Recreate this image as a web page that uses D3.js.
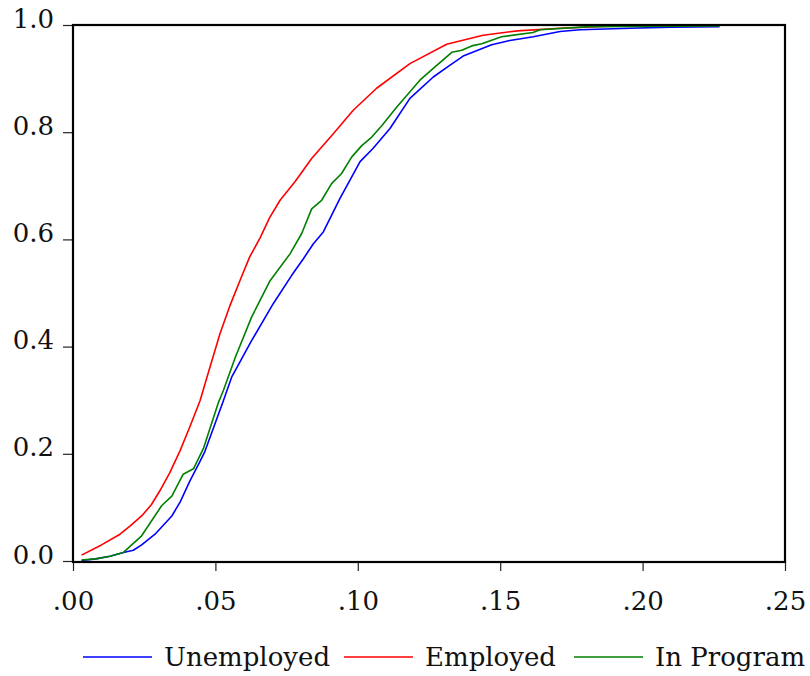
<!DOCTYPE html>
<html>
<head>
<meta charset="utf-8">
<script src="https://cdn.jsdelivr.net/npm/d3@7"></script>
<style>
  body { margin: 0; background: #fff; }
</style>
</head>
<body>
<div id="chart"></div>
<script>
// Cumulative distributions, [x, share] pairs
const unemployed = [
  [0.003, 0.001], [0.008, 0.004], [0.013, 0.009], [0.0177, 0.016], [0.0212, 0.020],
  [0.0241, 0.030], [0.0288, 0.050], [0.0347, 0.084], [0.0376, 0.110], [0.0411, 0.150],
  [0.0446, 0.186], [0.0462, 0.203], [0.0528, 0.299], [0.0557, 0.343], [0.0627, 0.411],
  [0.0703, 0.480], [0.0768, 0.533], [0.0809, 0.564], [0.0844, 0.592], [0.0879, 0.614],
  [0.0937, 0.676], [0.1008, 0.745], [0.1054, 0.770], [0.1113, 0.807], [0.1183, 0.863],
  [0.1265, 0.903], [0.1324, 0.925], [0.137, 0.942], [0.147, 0.963], [0.1534, 0.971],
  [0.1616, 0.978], [0.171, 0.988], [0.178, 0.991], [0.1956, 0.994], [0.21, 0.996],
  [0.227, 0.997]
];

const employed = [
  [0.003, 0.011], [0.010, 0.030], [0.0165, 0.050], [0.020, 0.065], [0.0241, 0.084],
  [0.0275, 0.105], [0.0305, 0.131], [0.034, 0.165], [0.0376, 0.206], [0.041, 0.250],
  [0.0446, 0.299], [0.048, 0.360], [0.0516, 0.424], [0.055, 0.475], [0.0586, 0.523],
  [0.062, 0.567], [0.0657, 0.603], [0.069, 0.640], [0.0727, 0.673], [0.078, 0.708],
  [0.0838, 0.751], [0.0914, 0.797], [0.0984, 0.841], [0.1066, 0.882], [0.1183, 0.928],
  [0.1312, 0.964], [0.144, 0.981], [0.156, 0.989], [0.171, 0.994], [0.19, 0.998],
  [0.205, 0.999]
];

const inProgram = [
  [0.003, 0.002], [0.008, 0.004], [0.013, 0.009], [0.0177, 0.016], [0.0241, 0.047],
  [0.0311, 0.103], [0.0347, 0.121], [0.0387, 0.162], [0.0423, 0.172], [0.0458, 0.210],
  [0.051, 0.295], [0.0528, 0.318], [0.057, 0.380], [0.0627, 0.455], [0.0692, 0.523],
  [0.0762, 0.573], [0.0803, 0.611], [0.0838, 0.657], [0.0873, 0.673], [0.0908, 0.704],
  [0.0943, 0.723], [0.0979, 0.754], [0.1014, 0.775], [0.1049, 0.791], [0.1084, 0.812],
  [0.1137, 0.847], [0.1218, 0.897], [0.1271, 0.922], [0.133, 0.949],
  [0.1365, 0.953], [0.14, 0.961], [0.1435, 0.965], [0.1505, 0.978], [0.1615, 0.986],
  [0.164, 0.991], [0.1815, 0.997], [0.227, 0.998]
];

const seriesNames = ['Unemployed', 'Employed', 'In Program'];
const seriesColors = ['#0000ff', '#ff0000', '#008000'];
const xTicks = [0, 0.05, 0.10, 0.15, 0.20, 0.25];
const xTickLabels = ['.00', '.05', '.10', '.15', '.20', '.25'];
const yTicks = [0, 0.2, 0.4, 0.6, 0.8, 1.0];

const FONT = '"DejaVu Serif", "Liberation Serif", "Times New Roman", serif';
const FONT_SIZE = 26;

const W = 810, H = 676;
const margin = { top: 25, right: 25, bottom: 115, left: 73 };
const width = W - margin.left - margin.right;
const height = H - margin.top - margin.bottom;

const svg = d3.select('#chart').append('svg')
  .attr('width', W).attr('height', H);

const g = svg.append('g')
  .attr('transform', `translate(${margin.left},${margin.top})`);

const x = d3.scaleLinear().domain([0, 0.25]).range([0, width]);
const y = d3.scaleLinear().domain([0, 1]).range([height, 0]);

// Lines
const line = d3.line().x(d => x(d[0])).y(d => y(d[1]));
[unemployed, employed, inProgram].forEach((data, i) => {
  g.append('path')
    .datum(data)
    .attr('fill', 'none')
    .attr('stroke', seriesColors[i])
    .attr('stroke-width', 1.6)
    .attr('stroke-linejoin', 'round')
    .attr('d', line);
});

// Axes: ticks outward, labels sit just above the tick
const xAxis = g.append('g')
  .attr('transform', `translate(0,${height})`)
  .call(d3.axisBottom(x).tickValues(xTicks).tickSize(10).tickPadding(10)
    .tickFormat((d, i) => xTickLabels[i]));
xAxis.select('.domain').remove();
xAxis.attr('font-family', FONT).attr('font-size', FONT_SIZE);
xAxis.selectAll('line').attr('stroke', '#222').attr('stroke-width', 1.2);
xAxis.selectAll('text').attr('fill', '#111').attr('dy', null).attr('y', 49);

const yAxis = g.append('g')
  .call(d3.axisLeft(y).tickValues(yTicks).tickSize(10).tickPadding(8)
    .tickFormat(d3.format('.1f')));
yAxis.select('.domain').remove();
yAxis.attr('font-family', FONT).attr('font-size', FONT_SIZE);
yAxis.selectAll('line').attr('stroke', '#222').attr('stroke-width', 1.2);
yAxis.selectAll('text').attr('fill', '#111').attr('dy', null).attr('y', 2).attr('x', -19);

// Frame
g.append('rect')
  .attr('width', width).attr('height', height + 1)
  .attr('fill', 'none').attr('stroke', '#000').attr('stroke-width', 2.2);

// Legend
const legendX = [83, 344, 574];
const legend = svg.append('g').attr('transform', 'translate(0,657)')
  .attr('font-family', FONT).attr('font-size', FONT_SIZE).attr('fill', '#111');
seriesNames.forEach((name, i) => {
  legend.append('line')
    .attr('x1', legendX[i]).attr('x2', legendX[i] + 69)
    .attr('stroke', seriesColors[i]).attr('stroke-width', 1.6);
  legend.append('text')
    .attr('x', legendX[i] + 81).attr('y', 9)
    .text(name);
});
</script>
</body>
</html>
